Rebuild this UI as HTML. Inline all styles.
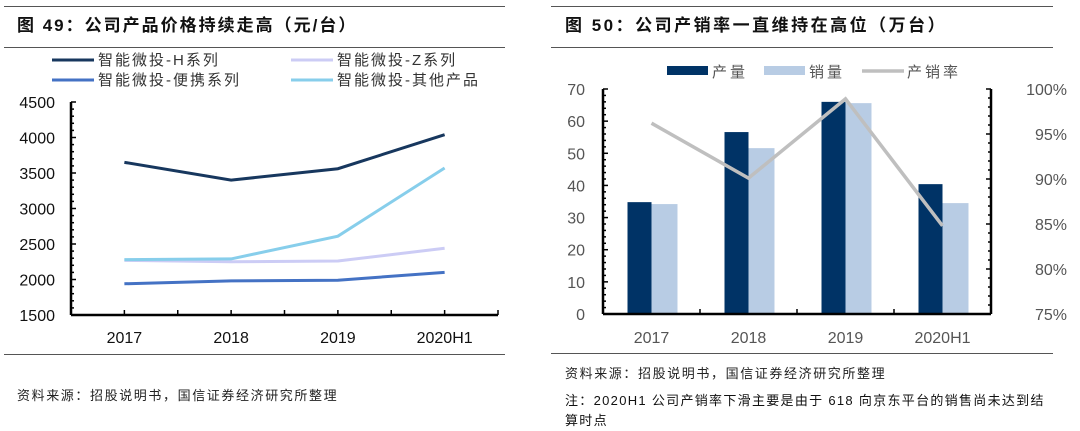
<!DOCTYPE html>
<html><head><meta charset="utf-8"><style>
body{margin:0;width:1080px;height:431px;background:#fff;overflow:hidden;font-family:"Liberation Sans","Noto Sans CJK SC",sans-serif;}
svg{position:absolute;left:0;top:0}
</style></head><body>
<svg id="s" width="1080" height="431" font-family="Liberation Sans, Noto Sans CJK SC, sans-serif">
<line x1="4" y1="6.5" x2="505" y2="6.5" stroke="#555"/>
<line x1="4" y1="47.5" x2="505" y2="47.5" stroke="#555"/>
<text x="17" y="31" font-size="17" font-weight="bold" fill="#111" letter-spacing="2">图 49：公司产品价格持续走高（元/台）</text>
<line x1="551" y1="6.5" x2="1053" y2="6.5" stroke="#555"/>
<line x1="551" y1="47.5" x2="1053" y2="47.5" stroke="#555"/>
<text x="565" y="31" font-size="17" font-weight="bold" fill="#111" letter-spacing="2.5">图 50：公司产销率一直维持在高位（万台）</text>
<line x1="4" y1="354.5" x2="505" y2="354.5" stroke="#555"/>
<line x1="551" y1="353.5" x2="1053" y2="353.5" stroke="#555"/>
<text x="17" y="400" font-size="13" fill="#222" letter-spacing="1.6">资料来源：招股说明书，国信证券经济研究所整理</text>
<text x="565" y="378" font-size="13" fill="#222" letter-spacing="1.6">资料来源：招股说明书，国信证券经济研究所整理</text>
<text x="565" y="405" font-size="13" fill="#111" letter-spacing="1.3">注：2020H1 公司产销率下滑主要是由于 618 向京东平台的销售尚未达到结</text>
<text x="565" y="425" font-size="13" fill="#111" letter-spacing="1.3">算时点</text>
<g id="L"></g><g id="R"></g>
</svg>
<script>
const lCats=["2017","2018","2019","2020H1"];
const lTicks=[1500,2000,2500,3000,3500,4000,4500];
const hSeries=[3650,3400,3560,4040];
const zSeries=[2270,2250,2260,2440];
const pSeries=[1940,1980,1990,2100];
const oSeries=[2280,2290,2610,3570];
const lNames=["智能微投-H系列","智能微投-Z系列","智能微投-便携系列","智能微投-其他产品"];
const rCats=["2017","2018","2019","2020H1"];
const prodVals=[34.8,56.6,66,40.4];
const salesVals=[34.2,51.6,65.6,34.5];
const rateVals=[96.2,90.1,98.9,84.8];
const rTicksL=[0,10,20,30,40,50,60,70];
const rTicksR=[75,80,85,90,95,100];
const NS="http://www.w3.org/2000/svg";
function mk(p,t,a,txt){const e=document.createElementNS(NS,t);for(const k in a)e.setAttribute(k,a[k]);if(txt!=null)e.textContent=txt;p.appendChild(e);return e;}
// Left chart
const L=document.getElementById('L');
const lx0=71,lx1=498,ly0=315,ly1=102;
const ly=v=>ly0-(v-1500)/3000*(ly0-ly1);
const lbw=(lx1-lx0)/lCats.length;
const lx=i=>lx0+lbw*(i+0.5);
lTicks.forEach(v=>{const t=mk(L,'text',{x:lx0-16,y:ly(v)+6,'font-size':16,'text-anchor':'end',fill:'#111'},v);});
for(let v=1500;v<=4500;v+=100){const m=mk(L,'line',{x1:lx0,x2:lx0+(v%500?3:5),y1:ly(v),y2:ly(v),stroke:'#000','stroke-width':1.5});}
const la=mk(L,'line',{x1:lx0,y1:ly1,x2:lx0,y2:ly0,stroke:'#000','stroke-width':2.5});
const lb=mk(L,'line',{x1:lx0,y1:ly0,x2:lx1,y2:ly0,stroke:'#000','stroke-width':2.5});
for(let i=0;i<=lCats.length*2;i++){const m=mk(L,'line',{x1:lx0+lbw/2*i,x2:lx0+lbw/2*i,y1:ly0,y2:ly0-5,stroke:'#000','stroke-width':1.5});}
lCats.forEach((c,i)=>{const t=mk(L,'text',{x:lx(i),y:ly0+28,'font-size':16,'text-anchor':'middle',fill:'#111'},c);});
const lCols=["#17375e","#ccccf5","#4472c4","#87ceeb"];
[hSeries,zSeries,pSeries,oSeries].forEach((s,k)=>{const p=mk(L,'polyline',{points:s.map((v,i)=>lx(i)+','+ly(v)).join(' '),fill:'none',stroke:lCols[k],'stroke-width':3});});
const lgPos=[[52,60],[291,60],[52,80],[291,80]];
lNames.forEach((n,k)=>{const g=mk(L,'g',{});
mk(g,'line',{x1:lgPos[k][0],x2:lgPos[k][0]+42,y1:lgPos[k][1],y2:lgPos[k][1],stroke:lCols[k],'stroke-width':3});
mk(g,'text',{x:lgPos[k][0]+46,y:lgPos[k][1]+5,'font-size':15,fill:'#333','letter-spacing':2},n);});
// Right chart
const R=document.getElementById('R');
const rx0=603,rx1=991,ry0=314,ry1=89;
const ryL=v=>ry0-v/70*(ry0-ry1);
const ryR=v=>ry0-(v-75)/25*(ry0-ry1);
const rbw=(rx1-rx0)/rCats.length;
const rx=i=>rx0+rbw*(i+0.5);
prodVals.forEach((v,i)=>{const b=mk(R,'rect',{x:rx(i)-24,y:ryL(v),width:24,height:ry0-ryL(v),fill:'#003366'});});
salesVals.forEach((v,i)=>{const b=mk(R,'rect',{x:rx(i),y:ryL(v),width:26,height:ry0-ryL(v),fill:'#b8cce4'});});
const rl=mk(R,'polyline',{points:rateVals.map((v,i)=>rx(i)+','+ryR(v)).join(' '),fill:'none',stroke:'#bfbfbf','stroke-width':3.5});
rTicksL.forEach(v=>{const t=mk(R,'text',{x:rx0-18,y:ryL(v)+6,'font-size':16,'text-anchor':'end',fill:'#555'},v);});
rTicksR.forEach(v=>{const t=mk(R,'text',{x:rx1+76,y:ryR(v)+6,'font-size':16,'text-anchor':'end',fill:'#555'},v+'%');});
for(let v=0;v<=70;v+=2){const m=mk(R,'line',{x1:rx0,x2:rx0+(v%10?3:5),y1:ryL(v),y2:ryL(v),stroke:'#000','stroke-width':1.5});}
for(let v=75;v<=100;v+=1){const m=mk(R,'line',{x1:rx1,x2:rx1-(v%5?3:5),y1:ryR(v),y2:ryR(v),stroke:'#000','stroke-width':1.5});}
[[rx0,ry1,rx0,ry0,'y-left-axis'],[rx1,ry1,rx1,ry0,'y-right-axis'],[rx0,ry0,rx1,ry0,'x-axis-right']].forEach(a=>{const e=mk(R,'line',{x1:a[0],y1:a[1],x2:a[2],y2:a[3],stroke:'#000','stroke-width':2.5});});
for(let i=1;i<rCats.length;i++){const m=mk(R,'line',{x1:rx0+rbw*i,x2:rx0+rbw*i,y1:ry0,y2:ry0-5,stroke:'#000','stroke-width':1.5});}
rCats.forEach((c,i)=>{const t=mk(R,'text',{x:rx(i),y:ry0+29,'font-size':16,'text-anchor':'middle',fill:'#555'},c);});
const lg=[["rect","#003366","产量",667],["rect","#b8cce4","销量",764],["line","#bfbfbf","产销率",862]];
lg.forEach(d=>{const g=mk(R,'g',{});
if(d[0]=="rect")mk(g,'rect',{x:d[3],y:66,width:41,height:9,fill:d[1]});else mk(g,'line',{x1:d[3],x2:d[3]+42,y1:71,y2:71,stroke:d[1],'stroke-width':3.5});
mk(g,'text',{x:d[3]+45,y:77,'font-size':15,fill:'#555','letter-spacing':3},d[2]);});
</script>
</body></html>
